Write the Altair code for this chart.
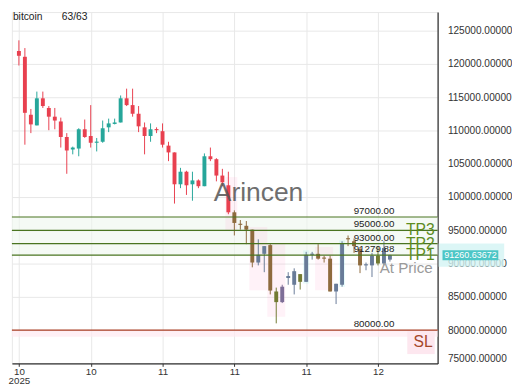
import altair as alt
import pandas as pd

# ---------------- data ----------------
opens = [121950, 121080, 112370, 110770, 114840, 113390, 112080, 111360, 109030, 107150,
         107290, 110190, 109180, 108160, 108310, 110480, 110990, 111210, 114840, 113820,
         112520, 110480, 109180, 110190, 109900, 107730, 106710, 101920, 103810, 101920,
         102500, 101630, 106130, 105690, 103230, 101770, 97710, 95970, 95680, 95100,
         90160, 91470, 92780, 85810, 84210, 87840, 86820, 87260, 87260, 91470,
         91470, 90890, 90740, 85810, 86820, 93790, 93360, 92190, 89730, 89730,
         91180, 90020, 90600]
highs = [123550, 122390, 113240, 115850, 115850, 113680, 113390, 111940, 109610, 107580,
         110340, 111650, 113820, 108880, 111500, 111790, 111790, 115270, 116290, 116290,
         113680, 111210, 111070, 110480, 111070, 108310, 106710, 104390, 103950, 103810,
         102650, 106560, 107440, 105840, 104240, 103810, 98000, 96550, 96400, 95100,
         93650, 92630, 92920, 86390, 86820, 88710, 89290, 88420, 91760, 91760,
         92920, 91180, 91180, 86970, 93360, 94230, 93790, 92490, 90160, 91610,
         92630, 93360, 91320]
lows = [119770, 107870, 109610, 110770, 113390, 110050, 110190, 107440, 103500, 106420,
        106130, 108900, 107440, 106860, 108160, 109760, 110920, 111210, 113680, 112080,
        109760, 106420, 108310, 109610, 107440, 105400, 99020, 101340, 100320, 99450,
        101340, 101630, 105400, 102360, 101630, 97420, 94230, 95100, 92920, 89440,
        89730, 88710, 85370, 81020, 84070, 86820, 85370, 86100, 87260, 90600,
        90600, 90160, 85810, 83920, 86530, 92630, 91610, 88570, 89000, 87980,
        89730, 89730, 90300]
closes = [121230, 112660, 110920, 114840, 113680, 112080, 111500, 109030, 107000, 107440,
          110190, 109030, 108160, 108310, 110340, 111070, 111210, 114840, 113820, 112520,
          110630, 109180, 110190, 110050, 107870, 106710, 101920, 103810, 101770, 102500,
          101630, 106130, 105690, 103230, 102210, 97710, 96110, 95820, 95100, 90160,
          91320, 92630, 85950, 84210, 86530, 88130, 88860, 88420, 91320, 91320,
          90740, 90740, 85810, 86970, 93070, 93650, 92630, 89730, 89870, 91180,
          90020, 92340, 91260]
tones = ["down", "down", "down", "up", "down", "down", "down", "down", "down", "up",
         "up", "down", "down", "up", "up", "up", "up", "up", "down", "down",
         "down", "down", "up", "down", "down", "down", "down", "up", "down", "up",
         "down", "up", "down", "down", "down", "down", "brown", "brown", "brown", "brown",
         "slate", "slate", "brown", "olive", "purple", "slate", "slate", "olive", "slate", "slate",
         "brown", "brown", "brown", "slate", "slate", "brown", "brown", "brown", "slate", "slate",
         "olive", "slate", "slate"]

tone_names = ["up", "down", "brown", "slate", "olive", "purple"]

tp_level_values = [97000, 95000, 93000, 91279.88]
tp_level_texts = ["97000.00", "95000.00", "93000.00", "91279.88"]
sl_value = 80000
sl_level_text = "80000.00"

tp_names = ["TP3", "TP2", "TP1"]
tp_values = [95000, 93000, 91279.88]
at_price_text = "At Price"
at_price_value = 91279.88
sl_text = "SL"

pink_start = [34.5, 38.5, 41.5, 49.5]
pink_end = [36.5, 41.5, 44.5, 52.5]
pink_low = [95000, 86000, 82000, 86000]
pink_high = [103000, 95500, 93000, 92500]
cyan_start = [47.5, 53.5]
cyan_end = [48.5, 54.5]
cyan_low = [87000, 86500]
cyan_high = [92000, 93500]

y_ticks = [75000, 80000, 85000, 90000, 95000, 100000, 105000, 110000, 115000, 120000, 125000]
x_ticks = [0, 12, 24, 36, 48, 60]
x_tick_labels = ["10", "10", "11", "11", "11", "12"]
x_year = "2025"

current_price = 91260.63672
title_left = "bitcoin"
title_count = "63/63"
watermark = "Arincen"

# ---------------- tables ----------------
n = len(opens)
candles = pd.DataFrame({
    "i": list(range(n)), "open": opens, "high": highs, "low": lows,
    "close": closes, "tone": tones,
})
candles["blo"] = candles[["open", "close"]].min(axis=1)
candles["bhi"] = candles[["open", "close"]].max(axis=1)
candles["bhi"] = pd.concat([candles["bhi"], candles["blo"] + 170], axis=1).max(axis=1)

tp_levels = pd.DataFrame({"v": tp_level_values, "t": tp_level_texts})
sl_level = pd.DataFrame({"v": [sl_value], "t": [sl_level_text]})
tps = pd.DataFrame({"v": tp_values, "t": tp_names})
pinks = pd.DataFrame({"a": pink_start, "b": pink_end, "lo": pink_low, "hi": pink_high})
cyans = pd.DataFrame({"a": cyan_start, "b": cyan_end, "lo": cyan_low, "hi": cyan_high})
price = pd.DataFrame({"v": [current_price], "t": [f"{current_price:.5f}"],
                      "lo": [current_price - 740], "hi": [current_price + 740],
                      "blo": [current_price - 1750], "bhi": [current_price + 1750]})

FONT = "Liberation Sans"
W, H = 435, 359

first = "['" + x_tick_labels[0] + "','" + x_year + "']"
rest = ",".join("'" + s + "'" for s in x_tick_labels[1:])
label_expr = f"[{first},{rest}][indexof({x_ticks}, datum.value)]"

xscale = alt.Scale(domain=[-0.35, 69.15], nice=False, zero=False)
yscale = alt.Scale(domain=[75000, 127800], nice=False, zero=False)
xaxis = alt.Axis(values=x_ticks, labelExpr=label_expr, title=None, grid=True,
                 gridColor="#e7e7e7", domainColor="#333333", domainWidth=1.3,
                 tickColor="#333333", tickSize=3,
                 labelFont=FONT, labelFontSize=10, labelColor="#333333",
                 labelFlush=6, labelPadding=0, labelLineHeight=10)
yaxis = alt.Axis(orient="right", values=y_ticks, format=".5f", title=None, grid=True,
                 gridColor="#e7e7e7", domainColor="#333333", domainWidth=1.3, ticks=False,
                 labelFont=FONT, labelFontSize=10.3, labelColor="#333333",
                 labelPadding=10, labelFlush=3, labelOverlap=False)

X = lambda f: alt.X(f"{f}:Q", scale=xscale, axis=xaxis)
Y = lambda f: alt.Y(f"{f}:Q", scale=yscale, axis=yaxis)

tone_scale = alt.Scale(domain=tone_names,
                       range=["#26a69a", "#e8404f", "#8e6b3e", "#687b98", "#727a31", "#7d6e97"])

pink_layer = alt.Chart(pinks).mark_rect(color="#ff8cc0", opacity=0.11).encode(
    x=X("a"), x2="b", y=Y("lo"), y2="hi")
cyan_layer = alt.Chart(cyans).mark_rect(color="#6fe6e6", opacity=0.16).encode(
    x=X("a"), x2="b", y=Y("lo"), y2="hi")

sl_band = alt.Chart(pd.DataFrame({"lo": [sl_value - 1000], "hi": [sl_value]})).mark_rect(
    color="#ffe9f1", opacity=0.7).encode(x=alt.value(0), x2=alt.value(W), y=Y("lo"), y2="hi")
tp_band = alt.Chart(pd.DataFrame({"lo": [min(tp_level_values)], "hi": [max(tp_level_values)]})).mark_rect(
    color="#eef7ee", opacity=0.6).encode(x=alt.value(0), x2=alt.value(W), y=Y("lo"), y2="hi")

wicks = alt.Chart(candles).mark_rule(strokeWidth=1).encode(
    x=X("i"), y=Y("low"), y2="high",
    color=alt.Color("tone:N", scale=tone_scale, legend=None),
)
bodies = alt.Chart(candles).mark_bar(size=4).encode(
    x=X("i"), y=Y("blo"), y2="bhi",
    color=alt.Color("tone:N", scale=tone_scale, legend=None),
)

tp_rules = alt.Chart(tp_levels).mark_rule(strokeWidth=1.2, color="#4a7420").encode(y=Y("v"))
sl_rule = alt.Chart(sl_level).mark_rule(strokeWidth=1.2, color="#a83c22").encode(y=Y("v"))

label_style = dict(font=FONT, fontSize=10, color="#222222", align="center", baseline="bottom", dy=-1)
tp_level_labels = alt.Chart(tp_levels).mark_text(**label_style).encode(
    x=alt.value(370), y=Y("v"), text="t:N")
sl_level_label = alt.Chart(sl_level).mark_text(**label_style).encode(
    x=alt.value(370), y=Y("v"), text="t:N")

tp_labels = alt.Chart(tps).mark_text(
    font=FONT, fontSize=16, color="#5d8c1f", align="right", baseline="middle"
).encode(x=alt.value(W - 3), y=Y("v"), text="t:N")

at_label = alt.Chart(pd.DataFrame({"v": [at_price_value], "t": [at_price_text]})).mark_text(
    font=FONT, fontSize=15.5, color="#9a9a9a", align="right", baseline="middle", dy=13
).encode(x=alt.value(W - 5), y=Y("v"), text="t:N")

sl_box = alt.Chart(pd.DataFrame({"lo": [sl_value - 3600], "hi": [sl_value - 150]})).mark_rect(
    color="#fde7ef").encode(x=alt.value(W - 31), x2=alt.value(W - 3), y=Y("lo"), y2="hi")
sl_label = alt.Chart(pd.DataFrame({"v": [sl_value], "t": [sl_text]})).mark_text(
    font=FONT, fontSize=16, color="#a5462a", align="right", baseline="middle", dy=12
).encode(x=alt.value(W - 5), y=Y("v"), text="t:N")

price_band = alt.Chart(price).mark_rect(color="#d3f4f4", opacity=0.8).encode(
    x=alt.value(W + 1), x2=alt.value(W + 68), y=Y("blo"), y2="bhi")
price_box = alt.Chart(price).mark_rect(color="#4cc6c6").encode(
    x=alt.value(W + 5), x2=alt.value(W + 62), y=Y("lo"), y2="hi")
price_text = alt.Chart(price).mark_text(
    font=FONT, fontSize=9.2, color="#ffffff", align="center", baseline="middle"
).encode(x=alt.value(W + 33.5), y=Y("v"), text="t:N")

wm = alt.Chart(pd.DataFrame({"t": [watermark]})).mark_text(
    font=FONT, fontSize=27, color="#555555", opacity=0.85, align="center", baseline="middle"
).encode(x=alt.value(252), y=alt.value(185), text="t:N")

title_a = alt.Chart(pd.DataFrame({"t": [title_left]})).mark_text(
    font=FONT, fontSize=10.5, color="#222222", align="left", baseline="top"
).encode(x=alt.value(1), y=alt.value(0), text="t:N")
title_b = alt.Chart(pd.DataFrame({"t": [title_count]})).mark_text(
    font=FONT, fontSize=10.5, color="#222222", align="left", baseline="top"
).encode(x=alt.value(51), y=alt.value(0), text="t:N")

chart = alt.layer(
    tp_band, sl_band, pink_layer, cyan_layer, wicks, bodies, tp_rules, sl_rule,
    tp_level_labels, sl_level_label, tp_labels, at_label, sl_box, sl_label, wm,
    title_a, title_b, price_band, price_box, price_text,
).properties(width=W, height=H, padding=0).configure_view(stroke="#e7e7e7")

chart.save("out.html", embed_options={"renderer": "svg", "actions": False})
